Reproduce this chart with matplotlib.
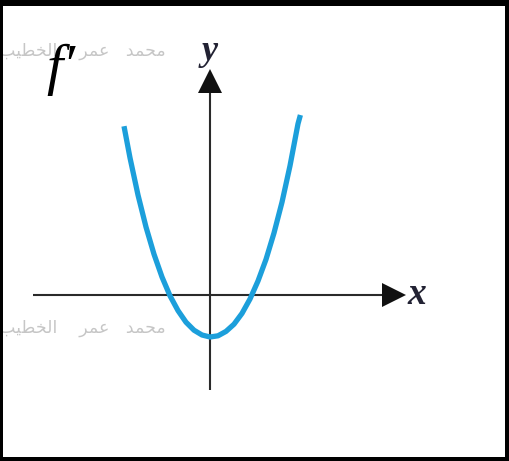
import matplotlib
matplotlib.use("Agg")
import matplotlib.pyplot as plt
from matplotlib.patches import Rectangle

# ---- data (units: one grid unit ~ distance from origin to a root) ----
curve_x = [-2.15, -2.0, -1.8, -1.6, -1.4, -1.2, -1.0, -0.8, -0.6, -0.4, -0.2, 0.0,
           0.2, 0.4, 0.6, 0.8, 1.0, 1.2, 1.4, 1.6, 1.8, 2.0, 2.2, 2.26]
curve_y = [4.22, 3.43, 2.50, 1.70, 1.02, 0.45, -0.02, -0.39, -0.68, -0.88, -1.00, -1.05,
           -1.02, -0.91, -0.73, -0.46, -0.10, 0.35, 0.89, 1.55, 2.32, 3.23, 4.28, 4.50]
x_label = "x"
y_label = "y"
func_label = "f\u2032"
# watermark "محمد عمر الخطيب" written in visual-order Arabic presentation forms
watermark = ("\uFE90\uFEF4\uFEC4\uFEA8\uFEDF\uFE8D    \uFEAE\uFEE4\uFECB   "
             "\uFEAA\uFEE4\uFEA4\uFEE3")

W, H, DPI = 509, 461, 100
fig = plt.figure(figsize=(W / DPI, H / DPI), dpi=DPI)
fig.patch.set_facecolor("white")

# axes spanning whole figure; 40 px per unit, origin at pixel (210, 295)
ox, oy, u = 210, 295, 40.0
ax = fig.add_axes([0, 0, 1, 1])
ax.set_xlim(-ox / u, (W - ox) / u)
ax.set_ylim(-(H - oy) / u, oy / u)
ax.axis("off")

axis_col = "#2a2a2a"
# x axis
ax.plot([-4.43, 4.35], [0, 0], color=axis_col, lw=1.5, solid_capstyle="butt", zorder=2)
ax.plot([4.6], [0], marker=">", ms=17, color="#111111", mew=0, zorder=3)
# y axis
ax.plot([0, 0], [-2.38, 5.1], color=axis_col, lw=1.5, solid_capstyle="butt", zorder=2)
ax.plot([0], [5.36], marker="^", ms=17, color="#111111", mew=0, zorder=3)

# curve
ax.plot(curve_x, curve_y, color="#1C9FDB", lw=3.8, solid_capstyle="butt",
        solid_joinstyle="round", zorder=4)

serif = ["Liberation Serif", "DejaVu Serif"]
ax.text(5.17, 0.02, x_label, fontsize=27, style="italic", fontweight="bold",
        family=serif, color="#222233", ha="center", va="center", zorder=5)
ax.text(0.0, 6.08, y_label, fontsize=26, style="italic", fontweight="bold",
        family=serif, color="#222233", ha="center", va="center", zorder=5)
ax.text(-3.72, 5.62, func_label, fontsize=42, style="italic",
        family=serif, color="black", ha="center", va="center", zorder=5)

# watermarks
wm_col = "#c6c6c6"
ax.text(-1.1, 6.1, watermark, fontsize=12.5, family=["DejaVu Sans"], color=wm_col,
        ha="right", va="center", zorder=1)
ax.text(-1.1, -0.83, watermark, fontsize=12.5, family=["DejaVu Sans"], color=wm_col,
        ha="right", va="center", zorder=1)

# black frame
frame = [(0, 0, W, 4), (0, H - 6, W, 6), (0, 0, 3, H), (W - 4, 0, 4, H)]
for (x0, y0, w, h) in frame:
    fig.patches.append(Rectangle((x0 / W, y0 / H), w / W, h / H, transform=fig.transFigure,
                                 facecolor="black", edgecolor="none", zorder=10))

fig.savefig("out.png", dpi=DPI, facecolor="white")
